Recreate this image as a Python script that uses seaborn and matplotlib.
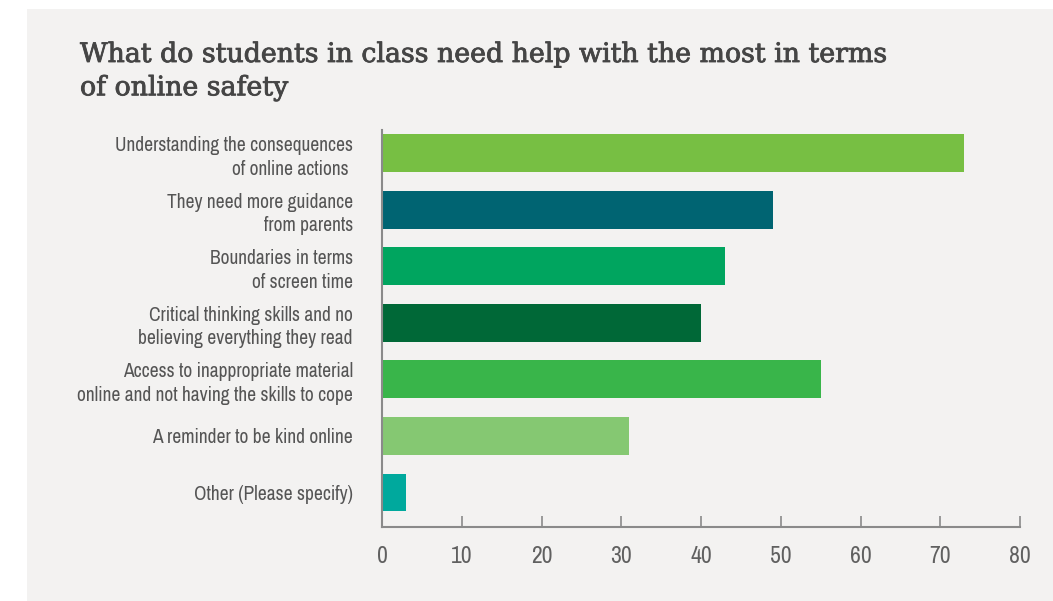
import matplotlib
matplotlib.use("Agg")
import matplotlib.pyplot as plt
import matplotlib.patheffects as pe
from matplotlib import font_manager
import seaborn as sns
import pandas as pd
from matplotlib.patches import Rectangle

categories = [
    "Understanding the consequences\nof online actions ",
    "They need more guidance\nfrom parents",
    "Boundaries in terms\nof screen time",
    "Critical thinking skills and no\nbelieving everything they read",
    "Access to inappropriate material\nonline and not having the skills to cope",
    "A reminder to be kind online",
    "Other (Please specify)",
]
values = [73, 49, 43, 40, 55, 31, 3]
bar_colors = ["#77bf43", "#006472", "#00a55f", "#006837", "#39b54a", "#85c872", "#00a99d"]
x_ticks = [0, 10, 20, 30, 40, 50, 60, 70, 80]

title = "What do students in class need help with the most in terms\nof online safety"

sns.set_theme(style="white")

# prefer a narrow sans for the labels if one is installed
installed = {f.name for f in font_manager.fontManager.ttflist}
narrow = [n for n in sorted(installed) if ("Narrow" in n or "Condensed" in n)]
label_family = narrow[0] if narrow else "Liberation Sans"
narrow_ok = bool(narrow)
plt.rcParams["font.family"] = [label_family, "DejaVu Sans"]

W, H = 1053, 601
fig = plt.figure(figsize=(W / 100, H / 100), dpi=100)
fig.patch.set_facecolor("white")

panel_bg = "#f3f2f1"
fig.patches.append(Rectangle((27 / W, 0), 1 - 27 / W, 1 - 9 / H,
                             transform=fig.transFigure, facecolor=panel_bg,
                             edgecolor="none", zorder=-10))

# axes placement in pixel units
x0, x1 = 382, 1020
y_top, y_bot = 130, 527
ax = fig.add_axes([x0 / W, 1 - y_bot / H, (x1 - x0) / W, (y_bot - y_top) / H])
ax.set_facecolor("none")

df = pd.DataFrame({"category": categories, "value": values})
sns.barplot(data=df, x="value", y="category", hue="category", palette=bar_colors,
            legend=False, width=0.67, ax=ax, saturation=1, linewidth=0)

label_size = 14 if narrow_ok else 11.5
ax.set_xlim(0, 80)
ax.set_ylim(6.61, -0.41)
ax.set_xticks(x_ticks)
ax.set_xticklabels([str(t) for t in x_ticks], fontsize=label_size + 3, color="#606060")
ax.tick_params(axis="x", direction="in", length=8, width=1.2, color="#8a8a8a",
               bottom=True, pad=14)
ax.tick_params(axis="y", length=0, pad=21)
for lab in ax.get_yticklabels():
    lab.set_fontsize(label_size)
    lab.set_color("#555555")
    lab.set_horizontalalignment("right")
    lab.set_multialignment("right")
    lab.set_linespacing(1.3)
ax.set_xlabel("")
ax.set_ylabel("")
for side in ["top", "right"]:
    ax.spines[side].set_visible(False)
for side in ["left", "bottom"]:
    ax.spines[side].set_color("#8a8a8a")
    ax.spines[side].set_linewidth(1.5)

title_color = "#454545"
fig.text(80 / W, 1 - 41 / H, title, fontsize=19.3, color=title_color,
         family=["DejaVu Serif"], va="top", ha="left", linespacing=1.3,
         path_effects=[pe.withStroke(linewidth=0.6, foreground=title_color)])

fig.savefig("out.png", dpi=100, facecolor=fig.get_facecolor())
